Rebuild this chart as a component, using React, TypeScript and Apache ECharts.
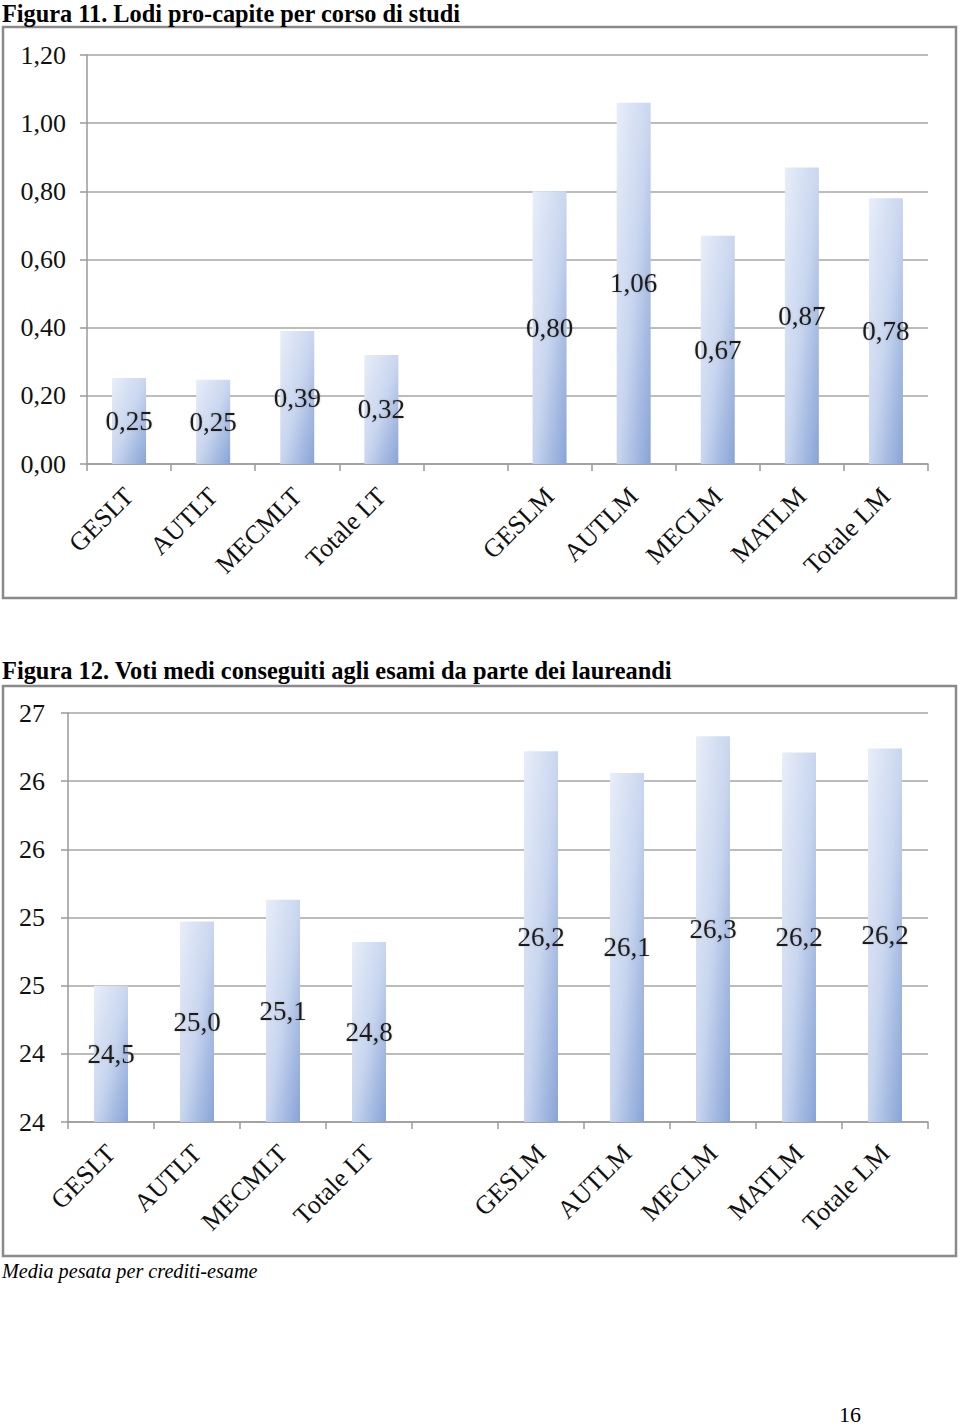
import { useEffect, useRef } from "react";
import * as echarts from "echarts";

const categories = ["GESLT", "AUTLT", "MECMLT", "Totale LT", "", "GESLM", "AUTLM", "MECLM", "MATLM", "Totale LM"];
const lodiValues = [0.252, 0.247, 0.39, 0.32, null, 0.8, 1.06, 0.67, 0.87, 0.78];
const votiValues = [24.5, 24.97, 25.13, 24.82, null, 26.22, 26.06, 26.33, 26.21, 26.24];
const lodiTickLabels = ["0,00", "0,20", "0,40", "0,60", "0,80", "1,00", "1,20"];
const votiTickLabels = ["24", "24", "25", "25", "26", "26", "27"];
const title1 = "Figura 11. Lodi pro-capite per corso di studi";
const title2 = "Figura 12. Voti medi conseguiti agli esami da parte dei laureandi";
const caption = "Media pesata per crediti-esame";
const pageNumber = "16";

const SERIF = "'Times New Roman', 'Liberation Serif', serif";

const barColor = {
  type: "linear",
  x: 0,
  y: 0,
  x2: 1,
  y2: 1,
  colorStops: [
    { offset: 0, color: "#e8eef9" },
    { offset: 0.5, color: "#c9d6ef" },
    { offset: 1, color: "#87a3d6" },
  ],
};

function makeAxes(
  gridIndex: number,
  min: number,
  max: number,
  interval: number,
  ticks: string[],
  labelMargin: number,
  yMargin: number
) {
  const x = {
    type: "category",
    gridIndex,
    data: categories,
    boundaryGap: true,
    axisLine: { show: true, lineStyle: { color: "#9a9a9a", width: 1.5 } },
    axisTick: { show: true, length: 7, lineStyle: { color: "#9a9a9a", width: 1.5 } },
    axisLabel: {
      interval: 0,
      rotate: 45,
      margin: labelMargin,
      fontFamily: SERIF,
      fontSize: 26,
      color: "#111",
    },
    splitLine: { show: false },
  };
  const y = {
    type: "value",
    gridIndex,
    min,
    max,
    interval,
    axisLine: { show: true, lineStyle: { color: "#9a9a9a", width: 1.5 } },
    axisTick: { show: true, length: 7, lineStyle: { color: "#9a9a9a", width: 1.5 } },
    axisLabel: {
      margin: yMargin,
      fontFamily: SERIF,
      fontSize: 26,
      color: "#111",
      formatter: (v: number) => ticks[Math.round((v - min) / interval)] ?? "",
    },
    splitLine: { show: true, lineStyle: { color: "#a6a6a6", width: 1.5 } },
  };
  return { x, y };
}

export default function App() {
  const ref = useRef<HTMLDivElement>(null);
  useEffect(() => {
    if (!ref.current) return;
    const chart = echarts.init(ref.current, undefined, { renderer: "svg" });
    const a1 = makeAxes(0, 0, 1.2, 0.2, lodiTickLabels, 28, 21);
    const a2 = makeAxes(1, 23.5, 26.5, 0.5, votiTickLabels, 27, 23);
    const labelStyle = {
      show: true,
      position: "inside",
      fontFamily: SERIF,
      fontSize: 27,
      color: "#1a1a1a",
      textShadowColor: "rgba(90,90,90,0.35)",
      textShadowBlur: 2,
    };
    chart.setOption({
      animation: false,
      backgroundColor: "#ffffff",
      grid: [
        { left: 87, top: 55, width: 841, height: 409, containLabel: false },
        { left: 68, top: 713, width: 860, height: 409, containLabel: false },
      ],
      xAxis: [a1.x, a2.x],
      yAxis: [a1.y, a2.y],
      series: [
        {
          type: "bar",
          xAxisIndex: 0,
          yAxisIndex: 0,
          data: lodiValues,
          barWidth: 34,
          itemStyle: { color: barColor },
          label: {
            ...labelStyle,
            formatter: (p: any) => Number(p.value).toFixed(2).replace(".", ","),
          },
        },
        {
          type: "bar",
          xAxisIndex: 1,
          yAxisIndex: 1,
          data: votiValues,
          barWidth: 34,
          itemStyle: { color: barColor },
          label: {
            ...labelStyle,
            formatter: (p: any) => Number(p.value).toFixed(1).replace(".", ","),
          },
        },
      ],
      graphic: [
        {
          type: "rect",
          silent: true,
          z: -1,
          shape: { x: 3, y: 27, width: 953, height: 571 },
          style: { fill: "none", stroke: "#8a8a8a", lineWidth: 2.5 },
        },
        {
          type: "rect",
          silent: true,
          z: -1,
          shape: { x: 3, y: 686, width: 953, height: 570 },
          style: { fill: "none", stroke: "#8a8a8a", lineWidth: 2.5 },
        },
        {
          type: "text",
          x: 2,
          y: 1,
          style: { text: title1, font: `bold 24.3px ${SERIF}`, fill: "#000", textVerticalAlign: "top" },
        },
        {
          type: "text",
          x: 2,
          y: 658,
          style: { text: title2, font: `bold 24.4px ${SERIF}`, fill: "#000", textVerticalAlign: "top" },
        },
        {
          type: "text",
          x: 2,
          y: 1261,
          style: { text: caption, font: `italic 20.2px ${SERIF}`, fill: "#000", textVerticalAlign: "top" },
        },
        {
          type: "text",
          x: 839,
          y: 1403,
          style: { text: pageNumber, font: `22px ${SERIF}`, fill: "#000", textVerticalAlign: "top" },
        },
      ],
    });
    return () => chart.dispose();
  }, []);
  return (
    <div style={{ position: "absolute", left: 0, top: 0, width: 960, height: 1426, background: "#fff" }}>
      <div ref={ref} style={{ width: 960, height: 1426 }} />
    </div>
  );
}
